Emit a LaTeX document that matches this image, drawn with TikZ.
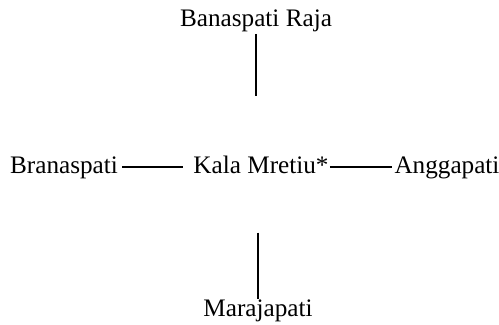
\documentclass[tikz,border=0pt]{standalone}
\usepackage{fontspec}
\setmainfont{Liberation Serif}
\usepackage{tikz}
\usetikzlibrary{calc}
\tikzset{
	name node/.style={font=\fontsize{12.6}{15}\selectfont,inner sep=0pt,anchor=base},
	link/.style={line width=0.9pt}
}

\begin{document}
\begin{tikzpicture}[x=0.5pt,y=-0.5pt]
	\useasboundingbox (0,0) rectangle (499,325);
	\node [name node] (raja) at (256,27) {Banaspati Raja};
	\node [name node] (kala) at (261,174) {Kala Mretiu*};
	\node [name node] (bran) at (64,174) {Branaspati};
	\node [name node] (angg) at (447,174) {Anggapati};
	\node [name node] (mara) at (258,317) {Marajapati};
	\draw [link,shorten <=0.5pt,shorten >=30pt] (raja.south) -- (raja.south |- kala.north);
	\draw [link,shorten <=29pt,shorten >=0.5pt] (kala.south -| mara.north) -- (mara.north);
	\draw [link] ($(bran.base east)+(4,-7)$) -- ($(kala.base west)+(-10,-7)$);
	\draw [link] ($(kala.base east)+(1,-7)$) -- ($(angg.base west)+(-2,-7)$);
\end{tikzpicture}
\end{document}
